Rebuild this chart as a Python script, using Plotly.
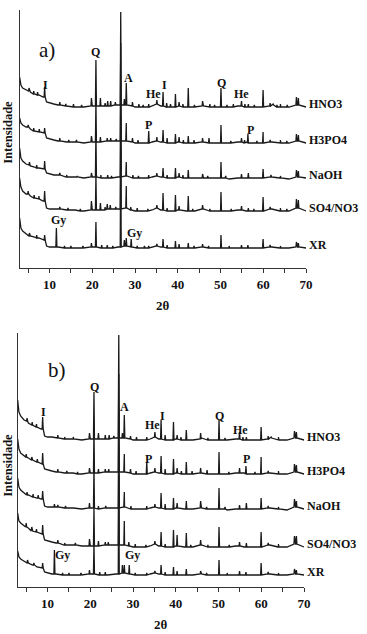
import plotly.graph_objects as go

# ---------------- data ----------------
series_names = ["HNO3", "H3PO4", "NaOH", "SO4/NO3", "XR"]

# background grid (2θ) shared by all patterns
bg_x = [3.0, 3.3, 3.7, 4.5, 5.5, 6.5, 7.5, 8.5, 9.3, 10, 11, 12, 14, 16, 18, 20, 22, 24, 26, 28,
        30, 32, 34, 35, 36, 38, 40, 42, 44, 46, 48, 50, 52, 54, 56, 58, 60, 62, 64, 66, 68, 70]

# ---- panel a) ----
a_offsets = [161, 125, 90, 57, 20]
a_bg_HNO3 = [30, 22, 19, 17, 15, 13, 12, 10, 5, 4, 3, 2, 1, 0, 0, 1, 1, 1, 2, 2, 0, 0, 1, 3, 1, 0, 1, 0, 0, 1, 0, 0, 0, 1, 0, 0, 0, 2, 0, 0, 2, 0]
a_bg_H3PO4 = [25, 20, 18, 16, 14, 12, 11, 10, 5, 4, 3, 2, 1, 1, 0, 1, 1, 2, 2, 2, 0, 0, 1, 2, 1, 0, 1, 0, 0, 1, 0, 0, 0, 1, 1, 0, 0, 1, 0, 0, 2, 0]
a_bg_NaOH = [30, 20, 17, 14, 12, 11, 10, 9, 5, 4, 3, 3, 1, 1, 0, 1, 0, 0, 1, 2, 0, 0, 1, 2, 1, 0, 1, 0, 0, 0, 0, 0, -1, 0, 0, 0, 0, 1, 0, -1, 1, 0]
a_bg_SO4NO3 = [33, 24, 20, 17, 15, 13, 12, 10, 3, 2, 2, 2, 1, 1, 0, 1, 1, 2, 2, 3, 0, 0, 1, 3, 1, 0, 1, 0, 0, 2, 0, 0, 0, 1, 0, 0, 0, 2, 0, 0, 3, 0]
a_bg_XR = [30, 20, 17, 14, 12, 11, 10, 8, 2, 1, 1, 1, 0, 0, 0, 1, 0, 0, 1, 2, 0, 0, 1, 2, 1, 0, 0, 0, 0, 1, 0, 0, 0, 0, 0, 0, 0, 1, 0, 0, 1, 0]

# peaks: (2θ, base, top)
a_pk_HNO3 = [(5.2, 16, 19), (6.3, 13, 16), (7.2, 12, 15), (8.85, 10, 20), (12.4, 2, 5), (13.8, 1, 3), (15.6, 0, 3),
             (17.5, 0, 2), (19.8, 1, 9), (20.85, 1, 47), (21.9, 1, 9), (23.0, 1, 4), (23.6, 1, 6), (24.3, 1, 6),
             (25.4, 2, 5), (26.65, 2, 95), (27.5, 2, 8), (27.95, 2, 24), (29.4, 1, 5), (30.9, 0, 3), (31.9, 0, 2),
             (33.2, 0, 3), (35.1, 3, 7), (36.55, 1, 15), (37.4, 0, 4), (38.3, 0, 3), (39.45, 0, 13), (40.3, 1, 5),
             (41.2, 0, 3), (42.45, 0, 19), (43.9, 0, 2), (45.8, 1, 6), (47.5, 0, 3), (48.6, 0, 2), (50.1, 0, 19),
             (51.5, 0, 2), (53.0, 0, 3), (54.9, 1, 6), (55.7, 0, 3), (56.5, 0, 3), (57.9, 0, 2), (59.95, 0, 17),
             (61.6, 1, 4), (62.3, 2, 3), (63.2, 0, 2), (64.0, 0, 3), (65.6, 0, 2), (67.75, 2, 10), (68.2, 2, 9)]
a_pk_H3PO4 = [(5.0, 16, 18), (6.3, 12, 15), (7.6, 11, 14), (8.85, 10, 15), (12.4, 2, 5), (14.5, 1, 3), (16.3, 1, 3),
              (19.8, 1, 7), (20.85, 1, 42), (21.9, 1, 6), (23.5, 2, 5), (24.3, 2, 5), (25.6, 2, 4), (26.65, 2, 100),
              (27.95, 2, 20), (29.4, 1, 5), (30.7, 0, 3), (33.2, 0, 12), (35.1, 2, 6), (36.55, 1, 13), (37.5, 0, 5),
              (39.45, 0, 9), (40.3, 1, 6), (41.3, 0, 3), (42.45, 0, 7), (43.8, 0, 3), (45.8, 1, 5), (47.3, 0, 5),
              (50.1, 0, 18), (52.4, 0, 2), (54.9, 1, 5), (55.6, 0, 3), (56.4, 0, 9), (58.5, 0, 2), (59.95, 0, 11),
              (61.6, 1, 3), (64.0, 0, 3), (65.5, 0, 2), (67.75, 2, 9), (68.2, 2, 8)]
a_pk_NaOH = [(5.3, 13, 16), (7.0, 10, 13), (8.85, 9, 17), (12.4, 3, 5), (14.0, 1, 3), (16.5, 1, 2), (19.8, 1, 5),
             (20.85, 1, 47), (22.0, 0, 3), (23.6, 0, 3), (24.5, 0, 2), (26.65, 1, 95), (27.95, 2, 16), (29.5, 0, 3),
             (30.8, 0, 2), (33.2, 0, 3), (35.1, 2, 5), (36.55, 1, 10), (37.5, 0, 3), (39.45, 0, 10), (40.3, 1, 5),
             (41.2, 0, 3), (42.45, 0, 8), (45.8, 0, 4), (47.0, 0, 2), (50.1, 0, 16), (51.2, 0, 2), (54.9, 0, 4),
             (56.5, 0, 5), (59.95, 0, 9), (61.8, 1, 3), (64.0, 0, 2), (67.75, 1, 8), (68.2, 1, 7)]
a_pk_SO4NO3 = [(5.0, 17, 20), (6.4, 13, 16), (7.5, 12, 15), (8.85, 10, 20), (12.4, 2, 4), (14.3, 1, 3), (17.2, 0, 2),
               (19.8, 1, 10), (20.85, 1, 36), (21.9, 1, 8), (23.0, 1, 4), (23.5, 2, 7), (24.2, 2, 6), (25.5, 2, 4),
               (26.65, 2, 95), (27.95, 3, 25), (29.0, 1, 4), (30.5, 0, 3), (33.0, 0, 2), (35.1, 3, 6), (36.55, 1, 18),
               (37.5, 0, 3), (39.45, 0, 16), (40.3, 1, 5), (42.45, 0, 15), (43.5, 0, 2), (45.8, 2, 6), (47.5, 0, 2),
               (50.1, 0, 19), (52.5, 0, 2), (54.9, 1, 5), (56.5, 0, 3), (57.8, 0, 2), (59.95, 0, 14), (61.6, 2, 4),
               (64.0, 0, 3), (65.5, 0, 2), (67.75, 3, 12), (68.2, 3, 11)]
a_pk_XR = [(5.3, 12, 15), (7.0, 10, 13), (8.85, 8, 13), (11.6, 1, 20), (13.5, 0, 2), (15.0, 0, 2), (17.8, 0, 2),
           (19.8, 1, 5), (20.85, 1, 26), (22.2, 0, 3), (23.5, 0, 3), (24.8, 0, 2), (26.65, 1, 100), (27.5, 2, 8),
           (27.95, 2, 10), (29.1, 1, 9), (30.5, 0, 2), (32.2, 0, 2), (33.2, 0, 2), (35.1, 2, 4), (36.55, 1, 9),
           (37.5, 0, 3), (39.45, 0, 7), (40.3, 0, 4), (42.45, 0, 5), (43.8, 0, 2), (45.8, 1, 4), (47.2, 0, 2),
           (50.1, 0, 13), (52.0, 0, 2), (54.9, 0, 3), (56.4, 0, 3), (59.95, 0, 9), (61.6, 1, 3), (64.0, 0, 2),
           (67.75, 1, 6), (68.2, 1, 5)]

# ---- panel b) ----
b_offsets = [147, 113, 78, 40, 12]
b_bg_HNO3 = [40, 28, 24, 20, 17, 15, 13, 11, 4, 3, 3, 2, 1, 1, 0, 1, 1, 1, 2, 2, 0, 0, 1, 3, 1, 0, 1, 0, 0, 2, 0, 0, 0, 1, 0, 0, 0, 2, 0, 0, 2, 0]
b_bg_H3PO4 = [35, 25, 21, 18, 16, 14, 12, 10, 5, 4, 3, 2, 1, 1, 0, 1, 1, 2, 2, 2, 0, 0, 1, 2, 1, 0, 1, 0, 0, 1, 0, 0, 0, 1, 1, 0, 0, 1, 0, 0, 2, 0]
b_bg_NaOH = [31, 22, 19, 16, 14, 12, 11, 10, 3, 2, 2, 2, 1, 1, 0, 1, 0, 1, 1, 2, 0, 0, 1, 2, 1, 0, 1, 0, 0, 1, 0, 0, -1, 0, 0, 0, 0, 1, 0, -1, 2, 0]
b_bg_SO4NO3 = [34, 26, 24, 21, 19, 16, 15, 13, 7, 6, 5, 4, 2, 2, 1, 1, 1, 2, 2, 2, 0, 0, 1, 3, 1, 0, 1, 0, 0, 2, 0, 0, 0, 1, 0, 0, 0, 2, 0, 0, 3, 0]
b_bg_XR = [24, 18, 16, 14, 12, 10, 8, 7, 3, 2, 1, 1, 0, 0, 0, 1, 0, 0, 1, 2, 0, 0, 1, 2, 1, 0, 0, 0, 0, 1, 0, 0, 0, 0, 0, 0, 0, 1, 0, 0, 1, 0]

b_pk_HNO3 = [(5.2, 19, 22), (6.4, 15, 18), (7.4, 13, 16), (8.85, 11, 23), (12.4, 2, 5), (14.0, 1, 3), (16.0, 1, 3),
             (19.8, 1, 7), (20.85, 1, 48), (21.9, 1, 7), (23.5, 1, 5), (24.4, 1, 5), (25.5, 2, 4), (26.65, 2, 105),
             (27.5, 2, 7), (27.95, 2, 25), (29.4, 1, 4), (30.8, 0, 3), (33.2, 0, 3), (35.1, 3, 8), (36.55, 1, 20),
             (37.5, 0, 5), (39.45, 0, 18), (40.3, 1, 5), (41.2, 0, 3), (42.45, 0, 10), (45.8, 1, 7), (47.5, 0, 2),
             (50.1, 0, 20), (51.5, 0, 2), (54.9, 1, 8), (55.7, 0, 3), (56.5, 0, 3), (59.95, 0, 13), (61.6, 1, 4),
             (62.3, 2, 3), (64.0, 0, 3), (67.75, 2, 9), (68.2, 2, 8)]
b_pk_H3PO4 = [(5.0, 17, 20), (6.3, 14, 17), (7.6, 12, 15), (8.85, 10, 21), (12.4, 2, 5), (14.5, 1, 3), (17.0, 0, 2),
              (19.8, 1, 6), (20.85, 1, 45), (21.9, 1, 5), (23.5, 2, 5), (24.3, 2, 5), (26.65, 2, 100), (27.95, 2, 20),
              (29.4, 1, 5), (30.7, 0, 3), (33.2, 0, 12), (35.1, 2, 6), (36.55, 1, 18), (37.5, 0, 5), (39.45, 0, 15),
              (40.3, 1, 6), (41.3, 0, 3), (42.45, 0, 12), (43.8, 0, 3), (45.8, 1, 6), (47.3, 0, 4), (50.1, 0, 22),
              (52.4, 0, 2), (54.9, 1, 6), (56.4, 0, 8), (58.5, 0, 2), (59.95, 0, 17), (61.6, 1, 3), (64.0, 0, 3),
              (67.75, 2, 10), (68.2, 2, 9)]
b_pk_NaOH = [(5.2, 14, 17), (6.6, 12, 15), (7.8, 11, 14), (8.85, 10, 18), (11.6, 2, 5), (12.4, 2, 4), (14.2, 1, 3),
             (19.8, 1, 6), (20.85, 1, 42), (21.9, 0, 3), (23.6, 1, 3), (26.65, 1, 100), (27.95, 2, 17), (29.5, 0, 3),
             (33.2, 0, 3), (35.1, 2, 5), (36.55, 1, 16), (37.5, 0, 5), (39.45, 0, 11), (40.3, 1, 6), (42.45, 0, 8),
             (45.8, 1, 8), (47.2, 0, 2), (50.1, 0, 21), (51.5, 0, 2), (54.9, 0, 4), (56.5, 0, 6), (59.95, 0, 11),
             (61.6, 1, 3), (64.0, 0, 2), (67.75, 2, 10), (68.2, 2, 8)]
b_pk_SO4NO3 = [(5.0, 20, 24), (6.3, 16, 20), (7.4, 15, 18), (8.85, 13, 22), (12.4, 4, 7), (14.0, 2, 4), (16.5, 2, 4),
               (19.8, 1, 8), (20.85, 1, 40), (21.9, 1, 6), (23.5, 2, 5), (24.2, 2, 5), (26.65, 2, 100), (27.95, 2, 26),
               (29.0, 1, 5), (30.5, 0, 3), (33.0, 0, 2), (35.1, 3, 6), (36.55, 1, 15), (37.5, 0, 3), (39.45, 0, 17),
               (40.3, 1, 12), (42.45, 0, 14), (43.5, 0, 2), (45.8, 2, 7), (47.5, 0, 2), (50.1, 0, 20), (52.5, 0, 2),
               (54.9, 1, 5), (56.5, 0, 4), (59.95, 0, 15), (61.6, 2, 4), (64.0, 0, 3), (67.75, 3, 11), (68.2, 3, 11)]
b_pk_XR = [(5.3, 12, 15), (6.8, 10, 12), (8.85, 7, 12), (11.6, 1, 25), (13.5, 0, 2), (15.0, 0, 2), (17.8, 0, 2),
           (19.8, 1, 5), (20.85, 1, 32), (22.2, 0, 3), (23.5, 0, 3), (26.65, 1, 100), (27.5, 2, 10), (27.95, 2, 10),
           (29.1, 1, 10), (30.5, 0, 2), (33.2, 0, 2), (35.1, 2, 4), (36.55, 1, 10), (37.5, 0, 3), (39.45, 0, 8),
           (40.3, 0, 4), (42.45, 0, 6), (45.8, 1, 4), (47.2, 0, 2), (50.1, 0, 15), (52.0, 0, 2), (54.9, 0, 4),
           (56.4, 0, 3), (59.95, 0, 12), (61.6, 1, 3), (64.0, 0, 2), (67.75, 1, 6), (68.2, 1, 5)]

# phase labels: (text, 2θ, intensity)
a_phase_labels = [("I", 9.1, 183), ("Q", 20.8, 216), ("Q", 26.8, 260), ("A", 28.4, 190), ("He", 34.4, 174),
                  ("I", 36.9, 183), ("Q", 50.2, 185), ("He", 54.8, 174), ("P", 33.2, 143), ("P", 56.9, 138),
                  ("Gy", 12.2, 48), ("Gy", 29.9, 35)]
b_phase_labels = [("I", 9.1, 175), ("Q", 21.0, 200), ("Q", 26.9, 259), ("A", 28.1, 180), ("He", 34.5, 162),
                  ("I", 36.8, 171), ("Q", 50.3, 171), ("He", 55.1, 157), ("P", 33.6, 128), ("P", 56.5, 128),
                  ("Gy", 13.4, 32), ("Gy", 29.8, 32)]

x_tickvals = [5, 10, 15, 20, 25, 30, 35, 40, 45, 50, 55, 60, 65, 70]
x_ticktext = ["", "10", "", "20", "", "30", "", "40", "", "50", "", "60", "", "70"]

# ---------------- figure ----------------
W, H = 367, 634
SERIF = "Liberation Serif, Times New Roman, serif"
LINE = "#1a1a1a"


def fx(px):
    return px / W


def fy(py):
    return 1 - py / H


def build(bg, peaks, offset):
    pts = list(zip(bg_x, bg))
    w = 0.12
    for p, b, t in peaks:
        pts += [(p - w, b), (p, t), (p + w, b)]
    pts.sort(key=lambda q: q[0])
    return [q[0] for q in pts], [q[1] + offset for q in pts]


fig = go.Figure()

panels = [
    ("x", "y", fx(313), a_offsets,
     [a_bg_HNO3, a_bg_H3PO4, a_bg_NaOH, a_bg_SO4NO3, a_bg_XR],
     [a_pk_HNO3, a_pk_H3PO4, a_pk_NaOH, a_pk_SO4NO3, a_pk_XR], a_phase_labels),
    ("x2", "y2", fx(311), b_offsets,
     [b_bg_HNO3, b_bg_H3PO4, b_bg_NaOH, b_bg_SO4NO3, b_bg_XR],
     [b_pk_HNO3, b_pk_H3PO4, b_pk_NaOH, b_pk_SO4NO3, b_pk_XR], b_phase_labels),
]

annotations = []
for xa, ya, lab_x, offs, bgs, pks, plabels in panels:
    for name, off, bg, pk in zip(series_names, offs, bgs, pks):
        xs, ys = build(bg, pk, off)
        fig.add_trace(go.Scatter(x=xs, y=ys, mode="lines", xaxis=xa, yaxis=ya,
                                 line=dict(color=LINE, width=1.3), showlegend=False, hoverinfo="skip"))
        annotations.append(dict(x=lab_x, y=off + 3, xref="paper", yref=ya, text=name, showarrow=False,
                                xanchor="left", yanchor="middle",
                                font=dict(family=SERIF, size=12, color="#111", weight="bold")))
    for txt, px, py in plabels:
        annotations.append(dict(x=px, y=py, xref=xa, yref=ya, text=txt, showarrow=False,
                                xanchor="center", yanchor="middle",
                                font=dict(family=SERIF, size=12, color="#111", weight="bold")))

# panel letters, axis titles
annotations += [
    dict(x=fx(48), y=fy(50), xref="paper", yref="paper", text="a)", showarrow=False,
         xanchor="center", yanchor="middle", font=dict(family=SERIF, size=21, color="#111")),
    dict(x=fx(58), y=fy(370), xref="paper", yref="paper", text="b)", showarrow=False,
         xanchor="center", yanchor="middle", font=dict(family=SERIF, size=21, color="#111")),
    dict(x=fx(166), y=fy(305), xref="paper", yref="paper", text="2θ", showarrow=False,
         xanchor="center", yanchor="middle", font=dict(family=SERIF, size=13, color="#111", weight="bold")),
    dict(x=fx(164), y=fy(624), xref="paper", yref="paper", text="2θ", showarrow=False,
         xanchor="center", yanchor="middle", font=dict(family=SERIF, size=13, color="#111", weight="bold")),
    dict(x=fx(8), y=fy(132), xref="paper", yref="paper", text="Intensidade", showarrow=False,
         xanchor="center", yanchor="middle", textangle=-90,
         font=dict(family=SERIF, size=12.5, color="#111", weight="bold")),
    dict(x=fx(8), y=fy(465), xref="paper", yref="paper", text="Intensidade", showarrow=False,
         xanchor="center", yanchor="middle", textangle=-90,
         font=dict(family=SERIF, size=12.5, color="#111", weight="bold")),
]

xcommon = dict(range=[3, 70], tickmode="array", tickvals=x_tickvals, ticktext=x_ticktext,
               ticks="outside", ticklen=4, tickwidth=1, tickcolor="#333",
               showline=True, linecolor="#333", linewidth=1, showgrid=False, zeroline=False,
               tickfont=dict(family=SERIF, size=13, color="#111", weight="bold"))
ycommon = dict(showline=True, linecolor="#333", linewidth=1, showgrid=False, zeroline=False,
               showticklabels=False, ticks="")

fig.update_layout(
    width=W, height=H, margin=dict(l=0, r=0, t=0, b=0),
    paper_bgcolor="white", plot_bgcolor="white",
    xaxis=dict(domain=[fx(20), fx(312)], anchor="y", **xcommon),
    yaxis=dict(domain=[fy(268), fy(10)], anchor="x", range=[0, 258], **ycommon),
    xaxis2=dict(domain=[fx(18), fx(310)], anchor="y2", **xcommon),
    yaxis2=dict(domain=[fy(587), fy(333)], anchor="x2", range=[0, 254], **ycommon),
    annotations=annotations,
)

# remove the page's default 8px body margin so the figure fills the window exactly
fig.write_html("out.html", config={"displayModeBar": False},
               post_script="document.body.style.margin='0';document.body.style.overflow='hidden';")
